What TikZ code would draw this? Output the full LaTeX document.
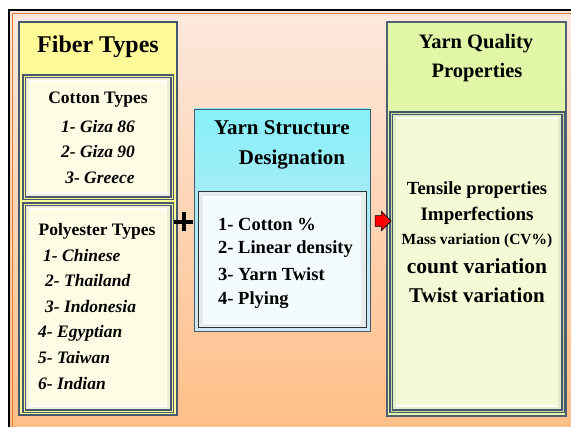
\documentclass[tikz,border=0pt]{standalone}
\usepackage{fontspec}
\setmainfont{Liberation Serif}
\usetikzlibrary{positioning,shapes.arrows}

\definecolor{bgtop}{HTML}{FDE9DE}
\definecolor{bgbot}{HTML}{FFBF88}
\definecolor{frameorange}{HTML}{E8762C}
\definecolor{edge}{HTML}{44586E}
\definecolor{fiberyellow}{HTML}{FFFA98}
\definecolor{cream}{HTML}{FDFDE6}
\definecolor{cyantop}{HTML}{86F0F8}
\definecolor{cyanbot}{HTML}{D2E6F4}
\definecolor{qgreen}{HTML}{E2F6A8}
\definecolor{qinner}{HTML}{F3FBD6}
\definecolor{paleblue}{HTML}{F4FBFD}

\tikzset{
  outerbox/.style={draw=edge, line width=1.3pt, minimum width=#1},
  bevelbox/.style={draw=edge, line width=1.2pt, fill=#1,
    path picture={
      \fill[#1!88!gray] (path picture bounding box.south west) rectangle (path picture bounding box.north east);
      \fill[#1] ([shift={(5pt,5pt)}]path picture bounding box.south west) rectangle ([shift={(-5pt,-5pt)}]path picture bounding box.north east);
      \draw[white, line width=1.2pt] ([shift={(5pt,-5pt)}]path picture bounding box.north west) -- ([shift={(-5pt,-5pt)}]path picture bounding box.north east);
      \draw[white, line width=1.2pt] ([shift={(5pt,5pt)}]path picture bounding box.south west) -- ([shift={(-5pt,5pt)}]path picture bounding box.south east);
    }},
  heading/.style={font=\fontsize{#1}{#1}\selectfont\bfseries, inner sep=0pt},
  item/.style={font=\fontsize{17.5}{17.5}\selectfont\bfseries\itshape, inner sep=0pt},
  plain/.style={font=\fontsize{18.5}{18.5}\selectfont\bfseries, inner sep=0pt}
}

\begin{document}
\begin{tikzpicture}[x=1pt,y=1pt]
  \useasboundingbox (0,0) rectangle (571,427);

  % Hintergrund und Rahmen
  \fill[top color=bgtop, bottom color=bgbot] (10,0) rectangle (571,416);
  \draw[line width=2pt] (9,0) -- (9,417) -- (571,417);
  \draw[frameorange, line width=0.9pt] (12.5,0) -- (12.5,414) -- (571,414);

  % Fiber Types
  \node[outerbox=158pt, minimum height=393pt, fill=fiberyellow] (fiber) at (98,208.5) {};
  \node[heading=24] (fibertitle) at (98,380) {Fiber Types};
  \node[bevelbox=cream, double=fiberyellow, double distance=0.8pt, minimum width=148pt, minimum height=122pt] (cotton) at (98,290) {};
  \node[bevelbox=cream, double=fiberyellow, double distance=0.8pt, minimum width=148pt, minimum height=207pt] (poly) at (98,119.5) {};

  \node[heading=17.5] (ctitle) at (98,327) {Cotton Types};
  \node[item] (c1) at (98,300) {1- Giza 86};
  \node[item] (c2) at (98,275) {2- Giza 90};
  \node[item] (c3) at (100,249) {3- Greece};

  \node[heading=17.5] (ptitle) at (97,196) {Polyester Types};
  \node[item, anchor=west] (p1) at (43,171) {1- Chinese};
  \node[item, anchor=west] (p2) at (45,146) {2- Thailand};
  \node[item, anchor=west] (p3) at (45,120) {3- Indonesia};
  \node[item, anchor=west] (p4) at (38,94) {4- Egyptian};
  \node[item, anchor=west] (p5) at (38,69) {5- Taiwan};
  \node[item, anchor=west] (p6) at (38,43) {6- Indian};

  % Plus
  \coordinate (plus) at (183.5,205);
  \draw[line width=4pt] ([xshift=-9.5pt]plus) -- ([xshift=9.5pt]plus);
  \draw[line width=4pt] ([yshift=-9.5pt]plus) -- ([yshift=9.5pt]plus);

  % Yarn Structure Designation
  \node[outerbox=176pt, minimum height=222pt, top color=cyantop, bottom color=cyanbot, line width=0.8pt] (struct) at (282,207) {};
  \node[bevelbox=paleblue, draw=black!80, line width=1pt, minimum width=168pt, minimum height=136pt] (list) at (282,167) {};
  \node[heading=21] (stitle1) at (282,299) {Yarn Structure};
  \node[heading=21] (stitle2) at (292,267) {Designation};
  \node[plain, anchor=west] (s1) at (218,203) {1- Cotton \%};
  \node[plain, anchor=west] (s2) at (218,178) {2- Linear density};
  \node[plain, anchor=west] (s3) at (218,153) {3- Yarn Twist};
  \node[plain, anchor=west] (s4) at (218,127) {4- Plying};

  % Yarn Quality Properties
  \node[outerbox=179pt, minimum height=394pt, fill=qgreen, draw=edge!80!gray] (quality) at (476.5,208) {};
  \node[bevelbox=qinner, double=qgreen!80!gray, double distance=0.8pt, minimum width=172pt, minimum height=298pt] (props) at (477,165) {};
  \node[heading=20.5] (qtitle1) at (476,383) {Yarn Quality};
  \node[heading=20.5] (qtitle2) at (477,354) {Properties};
  \node[heading=18.5] (q1) at (477,237) {Tensile properties};
  \node[heading=19] (q2) at (477,211) {Imperfections};
  \node[heading=15.5] (q3) at (477,186) {Mass variation (CV\%)};
  \node[heading=21.5] (q4) at (477,161) {count variation};
  \node[heading=21] (q5) at (477,132) {Twist variation};

  % Pfeil
  \node[single arrow, draw=black, fill=red, line width=0.6pt, minimum height=16pt, minimum width=19pt,
        single arrow head extend=4.5pt, inner sep=5pt] (arr) at (380.5,206) {};
\end{tikzpicture}
\end{document}
